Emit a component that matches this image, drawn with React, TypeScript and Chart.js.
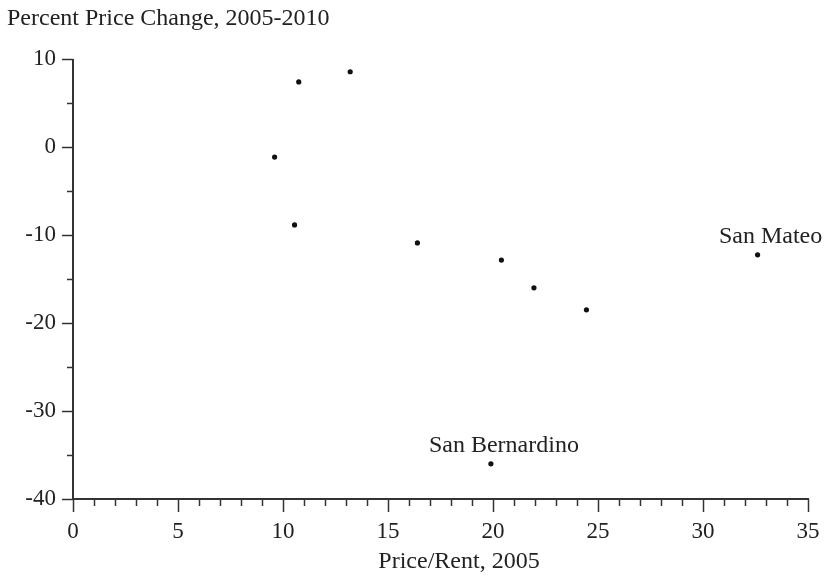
import React, { useEffect, useRef } from "react";
import { Chart, registerables } from "chart.js";

Chart.register(...registerables);

const xValues = [9.6, 10.75, 10.55, 13.2, 16.4, 20.4, 21.95, 24.45, 32.6, 19.9];
const yValues = [-1.15, 7.4, -8.85, 8.55, -10.9, -12.85, -16.0, -18.5, -12.25, -36.0];
const pointLabels = ["", "", "", "", "", "", "", "", "San Mateo", "San Bernardino"];
const xRange = [0, 35];
const yRange = [-40, 10];
const xMajorStep = 5;
const xMinorStep = 1;
const yMajorStep = 10;
const yMinorStep = 5;
const yTitle = "Percent Price Change, 2005-2010";
const xTitle = "Price/Rent, 2005";

const FONT = "'Liberation Serif', 'Times New Roman', serif";
const INK = "#333";
const TEXT = "#222";

const axesPlugin = {
  id: "customAxes",
  afterDraw(chart: any) {
    const { ctx, chartArea } = chart;
    const xs = chart.scales.x;
    const ys = chart.scales.y;
    ctx.save();
    ctx.strokeStyle = INK;
    ctx.lineWidth = 2;
    ctx.lineCap = "butt";
    ctx.beginPath();
    ctx.moveTo(chartArea.left, chartArea.top);
    ctx.lineTo(chartArea.left, chartArea.bottom);
    ctx.lineTo(chartArea.right + 1, chartArea.bottom);
    ctx.stroke();
    ctx.lineWidth = 1.5;
    for (let v = xRange[0]; v <= xRange[1] + 1e-9; v += xMinorStep) {
      const px = Math.round(xs.getPixelForValue(v)) + 0.5;
      const major = Math.abs(v % xMajorStep) < 1e-9;
      ctx.beginPath();
      ctx.moveTo(px, chartArea.bottom);
      ctx.lineTo(px, chartArea.bottom + (major ? 13 : 7));
      ctx.stroke();
    }
    for (let v = yRange[0]; v <= yRange[1] + 1e-9; v += yMinorStep) {
      const py = Math.round(ys.getPixelForValue(v)) + 0.5;
      const major = Math.abs(v % yMajorStep) < 1e-9;
      ctx.beginPath();
      ctx.moveTo(chartArea.left, py);
      ctx.lineTo(chartArea.left - (major ? 11 : 6), py);
      ctx.stroke();
    }
    ctx.fillStyle = TEXT;
    ctx.font = `24px ${FONT}`;
    ctx.textBaseline = "alphabetic";
    ctx.textAlign = "left";
    ctx.fillText(yTitle, 7, 25);
    ctx.textAlign = "center";
    ctx.fillText(xTitle, 459, 568);
    const meta = chart.getDatasetMeta(0);
    meta.data.forEach((el: any, i: number) => {
      const t = pointLabels[i];
      if (!t) return;
      ctx.fillText(t, el.x + 13, el.y - 12);
    });
    ctx.restore();
  },
};

export default function App() {
  const ref = useRef<HTMLCanvasElement | null>(null);
  useEffect(() => {
    document.body.style.margin = "0";
    const data = xValues.map((x, i) => ({ x, y: yValues[i] }));
    const chart = new Chart(ref.current as HTMLCanvasElement, {
      type: "scatter",
      data: {
        datasets: [
          {
            data,
            pointRadius: 2.6,
            pointBackgroundColor: "#111",
            pointBorderWidth: 0,
            borderColor: "#111",
          },
        ],
      },
      options: {
        responsive: false,
        animation: false,
        devicePixelRatio: 1,
        layout: { padding: { top: 59, right: 21, left: 0, bottom: 0 } },
        plugins: { legend: { display: false }, tooltip: { enabled: false }, title: { display: false } },
        scales: {
          x: {
            type: "linear",
            min: xRange[0],
            max: xRange[1],
            grid: { display: false, drawTicks: false, tickLength: 0 },
            border: { display: false },
            ticks: {
              stepSize: xMajorStep,
              padding: 19,
              color: TEXT,
              font: { family: FONT, size: 23 },
              maxRotation: 0,
            },
            afterFit: (s: any) => {
              s.height = 83;
              s.paddingRight = 0;
              s.paddingLeft = 0;
            },
          },
          y: {
            type: "linear",
            min: yRange[0],
            max: yRange[1],
            grid: { display: false, drawTicks: false, tickLength: 0 },
            border: { display: false },
            ticks: {
              stepSize: yMajorStep,
              padding: 17,
              color: TEXT,
              font: { family: FONT, size: 23 },
            },
            afterFit: (s: any) => {
              s.width = 73;
              s.paddingTop = 0;
              s.paddingBottom = 0;
            },
          },
        },
      },
      plugins: [axesPlugin],
    });
    return () => chart.destroy();
  }, []);
  return (
    <div style={{ width: 829, height: 582 }}>
      <canvas ref={ref} width={829} height={582} />
    </div>
  );
}
